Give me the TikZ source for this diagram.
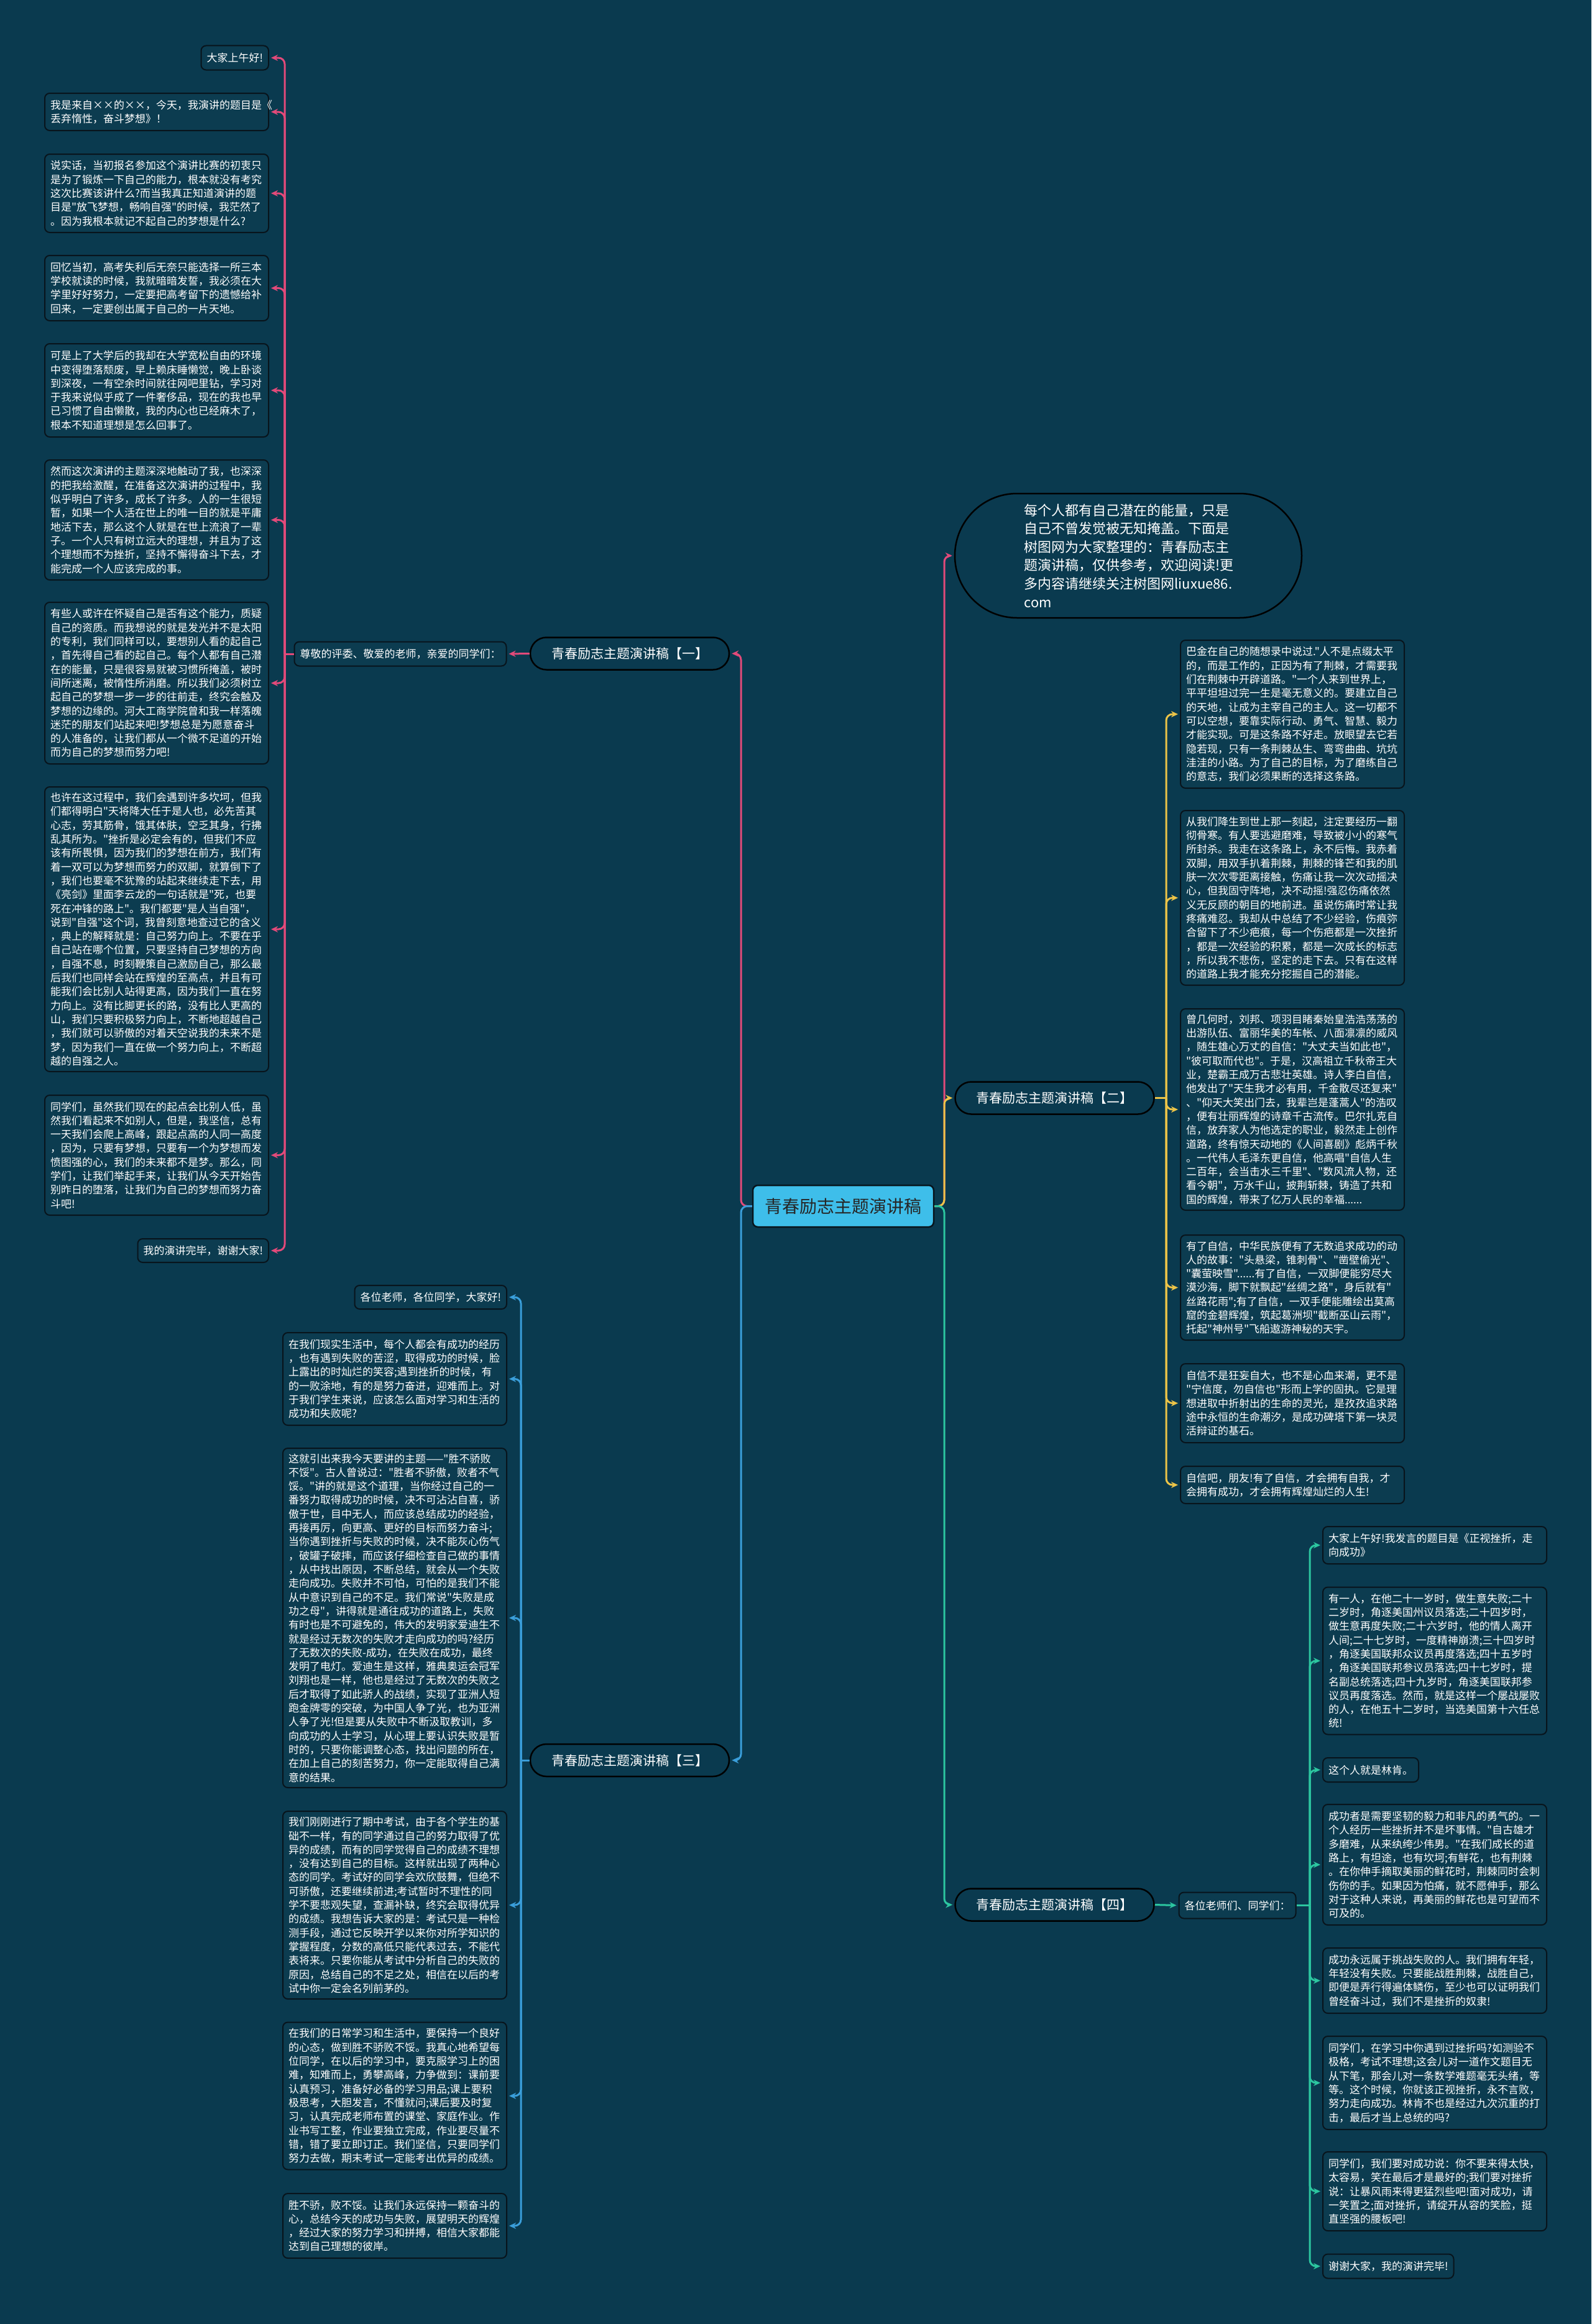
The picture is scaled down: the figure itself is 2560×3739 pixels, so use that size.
\documentclass[tikz,border=0pt]{standalone}
\usepackage{fontspec}
\newfontfamily\cjkf{Noto Sans CJK SC}
\usetikzlibrary{arrows.meta}
\definecolor{bgc}{RGB}{10,58,79}
\definecolor{boxc}{RGB}{12,60,80}
\definecolor{bdrc}{RGB}{8,20,28}
\definecolor{pinkc}{RGB}{226,74,122}
\definecolor{yelc}{RGB}{236,196,72}
\definecolor{bluc}{RGB}{58,158,218}
\definecolor{teac}{RGB}{44,198,160}
\definecolor{cenc}{RGB}{62,190,234}
\tikzset{
 tb/.style={draw=bdrc, line width=2pt, fill=boxc, rounded corners=8pt, text=white, font=\cjkf\fontsize{17}{22.3}\selectfont, inner xsep=9pt, inner ysep=3pt, align=left},
 wb/.style={tb, text width=342pt},
 brn/.style={draw=black, line width=2.5pt, fill=bgc, rounded corners=26pt, text=white, font=\cjkf\fontsize{21}{25}\selectfont, minimum width=320pt, minimum height=52pt, inner sep=0pt},
 cenn/.style={draw=bdrc, line width=2.5pt, fill=cenc, rounded corners=8pt, text=black!85, font=\cjkf\fontsize{28}{32}\selectfont, minimum width=291pt, minimum height=67pt},
 ln/.style={line width=3pt, rounded corners=10pt},
 ar/.style={ln, -{Stealth[length=11pt,width=10pt]}, shorten >=3pt},
}
\begin{document}
\begin{tikzpicture}[x=1pt,y=-1pt]
\useasboundingbox (0,0) rectangle (2560,3739);
\fill[bgc] (0,0) rectangle (2560,3739);

% central and branches
\node[cenn] (cen) at (1356.5,1940.5) {青春励志主题演讲稿};
\node[brn] (br1) at (1013,1051.5) {青春励志主题演讲稿【一】};
\node[brn] (br2) at (1696.5,1766.5) {青春励志主题演讲稿【二】};
\node[brn] (br3) at (1013,2832) {青春励志主题演讲稿【三】};
\node[brn] (br4) at (1696.5,3064.5) {青春励志主题演讲稿【四】};

\node[draw=black, line width=2.5pt, fill=bgc, rounded corners=100pt, minimum width=558pt, minimum height=200pt, text width=335pt, align=left, text=white, font=\cjkf\fontsize{22}{29.6}\selectfont] (bub) at (1815,894) {每个人都有自己潜在的能量，只是\\自己不曾发觉被无知掩盖。下面是\\树图网为大家整理的：青春励志主\\题演讲稿，仅供参考，欢迎阅读!更\\多内容请继续关注树图网liuxue86.\\com};

\node[tb, minimum height=39pt] (in1) at (644,1052) {尊敬的评委、敬爱的老师，亲爱的同学们：};
\node[tb, minimum height=42pt] (in4) at (1990.5,3065.5) {各位老师们、同学们：};

% branch 1 children
\node[tb, anchor=east, minimum height=39pt] (a1) at (433,93) {大家上午好!};
\node[wb, anchor=east, minimum height=60pt] (a2) at (433,180) {我是来自××的××，今天，我演讲的题目是《\\丢弃惰性，奋斗梦想》！};
\node[wb, anchor=east, minimum height=126pt] (a3) at (433,311) {说实话，当初报名参加这个演讲比赛的初衷只\\是为了锻炼一下自己的能力，根本就没有考究\\这次比赛该讲什么?而当我真正知道演讲的题\\目是"放飞梦想，畅响自强"的时候，我茫然了\\。因为我根本就记不起自己的梦想是什么?};
\node[wb, anchor=east, minimum height=105pt] (a4) at (433,463.5) {回忆当初，高考失利后无奈只能选择一所三本\\学校就读的时候，我就暗暗发誓，我必须在大\\学里好好努力，一定要把高考留下的遗憾给补\\回来，一定要创出属于自己的一片天地。};
\node[wb, anchor=east, minimum height=150pt] (a5) at (433,628) {可是上了大学后的我却在大学宽松自由的环境\\中变得堕落颓废，早上赖床睡懒觉，晚上卧谈\\到深夜，一有空余时间就往网吧里钻，学习对\\于我来说似乎成了一件奢侈品，现在的我也早\\已习惯了自由懒散，我的内心也已经麻木了，\\根本不知道理想是怎么回事了。};
\node[wb, anchor=east, minimum height=193pt] (a6) at (433,836.5) {然而这次演讲的主题深深地触动了我，也深深\\的把我给激醒，在准备这次演讲的过程中，我\\似乎明白了许多，成长了许多。人的一生很短\\暂，如果一个人活在世上的唯一目的就是平庸\\地活下去，那么这个人就是在世上流浪了一辈\\子。一个人只有树立远大的理想，并且为了这\\个理想而不为挫折，坚持不懈得奋斗下去，才\\能完成一个人应该完成的事。};
\node[wb, anchor=east, minimum height=260pt] (a7) at (433,1099) {有些人或许在怀疑自己是否有这个能力，质疑\\自己的资质。而我想说的就是发光并不是太阳\\的专利，我们同样可以，要想别人看的起自己\\，首先得自己看的起自己。每个人都有自己潜\\在的能量，只是很容易就被习惯所掩盖，被时\\间所迷离，被惰性所消磨。所以我们必须树立\\起自己的梦想一步一步的往前走，终究会触及\\梦想的边缘的。河大工商学院曾和我一样落魄\\迷茫的朋友们站起来吧!梦想总是为愿意奋斗\\的人准备的，让我们都从一个微不足道的开始\\而为自己的梦想而努力吧!};
\node[wb, anchor=east, minimum height=458pt] (a8) at (433,1495) {也许在这过程中，我们会遇到许多坎坷，但我\\们都得明白"天将降大任于是人也，必先苦其\\心志，劳其筋骨，饿其体肤，空乏其身，行拂\\乱其所为。"挫折是必定会有的，但我们不应\\该有所畏惧，因为我们的梦想在前方，我们有\\着一双可以为梦想而努力的双脚，就算倒下了\\，我们也要毫不犹豫的站起来继续走下去，用\\《亮剑》里面李云龙的一句话就是"死，也要\\死在冲锋的路上"。我们都要"是人当自强"，\\说到"自强"这个词，我曾刻意地查过它的含义\\，典上的解释就是：自己努力向上。不要在乎\\自己站在哪个位置，只要坚持自己梦想的方向\\，自强不息，时刻鞭策自己激励自己，那么最\\后我们也同样会站在辉煌的至高点，并且有可\\能我们会比别人站得更高，因为我们一直在努\\力向上。没有比脚更长的路，没有比人更高的\\山，我们只要积极努力向上，不断地超越自己\\，我们就可以骄傲的对着天空说我的未来不是\\梦，因为我们一直在做一个努力向上，不断超\\越的自强之人。};
\node[wb, anchor=east, minimum height=193pt] (a9) at (433,1858.5) {同学们，虽然我们现在的起点会比别人低，虽\\然我们看起来不如别人，但是，我坚信，总有\\一天我们会爬上高峰，跟起点高的人同一高度\\，因为，只要有梦想，只要有一个为梦想而发\\愤图强的心，我们的未来都不是梦。那么，同\\学们，让我们举起手来，让我们从今天开始告\\别昨日的堕落，让我们为自己的梦想而努力奋\\斗吧!};
\node[tb, anchor=east, minimum height=38pt] (a10) at (433,2012) {我的演讲完毕，谢谢大家!};

% branch 2 children
\node[wb, anchor=west, minimum height=238pt] (b1) at (1898,1149) {巴金在自己的随想录中说过."人不是点缀太平\\的，而是工作的，正因为有了荆棘，才需要我\\们在荆棘中开辟道路。"一个人来到世界上，\\平平坦坦过完一生是毫无意义的。要建立自己\\的天地，让成为主宰自己的主人。这一切都不\\可以空想，要靠实际行动、勇气、智慧、毅力\\才能实现。可是这条路不好走。放眼望去它若\\隐若现，只有一条荆棘丛生、弯弯曲曲、坑坑\\洼洼的小路。为了自己的目标，为了磨练自己\\的意志，我们必须果断的选择这条路。};
\node[wb, anchor=west, minimum height=281pt] (b2) at (1898,1444.5) {从我们降生到世上那一刻起，注定要经历一翻\\彻骨寒。有人要逃避磨难，导致被小小的寒气\\所封杀。我走在这条路上，永不后悔。我赤着\\双脚，用双手扒着荆棘，荆棘的锋芒和我的肌\\肤一次次零距离接触，伤痛让我一次次动摇决\\心，但我固守阵地，决不动摇!强忍伤痛依然\\义无反顾的朝目的地前进。虽说伤痛时常让我\\疼痛难忍。我却从中总结了不少经验，伤痕弥\\合留下了不少疤痕，每一个伤疤都是一次挫折\\，都是一次经验的积累，都是一次成长的标志\\，所以我不悲伤，坚定的走下去。只有在这样\\的道路上我才能充分挖掘自己的潜能。};
\node[wb, anchor=west, minimum height=324pt] (b3) at (1898,1785) {曾几何时，刘邦、项羽目睹秦始皇浩浩荡荡的\\出游队伍、富丽华美的车帐、八面凛凛的威风\\，随生雄心万丈的自信："大丈夫当如此也"，\\"彼可取而代也"。于是，汉高祖立千秋帝王大\\业，楚霸王成万古悲壮英雄。诗人李白自信，\\他发出了"天生我才必有用，千金散尽还复来"\\、"仰天大笑出门去，我辈岂是蓬蒿人"的浩叹\\，便有壮丽辉煌的诗章千古流传。巴尔扎克自\\信，放弃家人为他选定的职业，毅然走上创作\\道路，终有惊天动地的《人间喜剧》彪炳千秋\\。一代伟人毛泽东更自信，他高唱"自信人生\\二百年，会当击水三千里"、"数风流人物，还\\看今朝"，万水千山，披荆斩棘，铸造了共和\\国的辉煌，带来了亿万人民的幸福......};
\node[wb, anchor=west, minimum height=169pt] (b4) at (1898,2071.5) {有了自信，中华民族便有了无数追求成功的动\\人的故事："头悬梁，锥刺骨"、"凿壁偷光"、\\"囊萤映雪"......有了自信，一双脚便能穷尽大\\漠沙海，脚下就飘起"丝绸之路"，身后就有"\\丝路花雨";有了自信，一双手便能雕绘出莫高\\窟的金碧辉煌，筑起葛洲坝"截断巫山云雨"，\\托起"神州号"飞船遨游神秘的天宇。};
\node[wb, anchor=west, minimum height=127pt] (b5) at (1898,2257.5) {自信不是狂妄自大，也不是心血来潮，更不是\\"宁信度，勿自信也"形而上学的固执。它是理\\想进取中折射出的生命的灵光，是孜孜追求路\\途中永恒的生命潮汐，是成功碑塔下第一块灵\\活辩证的基石。};
\node[wb, anchor=west, minimum height=60pt] (b6) at (1898,2389) {自信吧，朋友!有了自信，才会拥有自我，才\\会拥有成功，才会拥有辉煌灿烂的人生!};

% branch 3 children
\node[tb, anchor=east, minimum height=38pt] (d1) at (816,2087) {各位老师，各位同学，大家好!};
\node[wb, anchor=east, minimum height=149pt] (d2) at (816,2218.5) {在我们现实生活中，每个人都会有成功的经历\\，也有遇到失败的苦涩，取得成功的时候，脸\\上露出的时灿烂的笑容;遇到挫折的时候，有\\的一败涂地，有的是努力奋进，迎难而上。对\\于我们学生来说，应该怎么面对学习和生活的\\成功和失败呢?};
\node[wb, anchor=east, minimum height=546pt] (d3) at (816,2603) {这就引出来我今天要讲的主题——"胜不骄败\\不馁"。古人曾说过："胜者不骄傲，败者不气\\馁。"讲的就是这个道理，当你经过自己的一\\番努力取得成功的时候，决不可沾沾自喜，骄\\傲于世，目中无人，而应该总结成功的经验，\\再接再厉，向更高、更好的目标而努力奋斗;\\当你遇到挫折与失败的时候，决不能灰心伤气\\，破罐子破摔，而应该仔细检查自己做的事情\\，从中找出原因，不断总结，就会从一个失败\\走向成功。失败并不可怕，可怕的是我们不能\\从中意识到自己的不足。我们常说"失败是成\\功之母"，讲得就是通往成功的道路上，失败\\有时也是不可避免的，伟大的发明家爱迪生不\\就是经过无数次的失败才走向成功的吗?经历\\了无数次的失败-成功，在失败在成功，最终\\发明了电灯。爱迪生是这样，雅典奥运会冠军\\刘翔也是一样，他也是经过了无数次的失败之\\后才取得了如此骄人的战绩，实现了亚洲人短\\跑金牌零的突破，为中国人争了光，也为亚洲\\人争了光!但是要从失败中不断汲取教训，多\\向成功的人士学习，从心理上要认识失败是暂\\时的，只要你能调整心态，找出问题的所在，\\在加上自己的刻苦努力，你一定能取得自己满\\意的结果。};
\node[wb, anchor=east, minimum height=302pt] (d4) at (816,3065) {我们刚刚进行了期中考试，由于各个学生的基\\础不一样，有的同学通过自己的努力取得了优\\异的成绩，而有的同学觉得自己的成绩不理想\\，没有达到自己的目标。这样就出现了两种心\\态的同学。考试好的同学会欢欣鼓舞，但绝不\\可骄傲，还要继续前进;考试暂时不理性的同\\学不要悲观失望，查漏补缺，终究会取得优异\\的成绩。我想告诉大家的是：考试只是一种检\\测手段，通过它反映开学以来你对所学知识的\\掌握程度，分数的高低只能代表过去，不能代\\表将来。只要你能从考试中分析自己的失败的\\原因，总结自己的不足之处，相信在以后的考\\试中你一定会名列前茅的。};
\node[wb, anchor=east, minimum height=237pt] (d5) at (816,3372) {在我们的日常学习和生活中，要保持一个良好\\的心态，做到胜不骄败不馁。我真心地希望每\\位同学，在以后的学习中，要克服学习上的困\\难，知难而上，勇攀高峰，力争做到：课前要\\认真预习，准备好必备的学习用品;课上要积\\极思考，大胆发言，不懂就问;课后要及时复\\习，认真完成老师布置的课堂、家庭作业。作\\业书写工整，作业要独立完成，作业要尽量不\\错，错了要立即订正。我们坚信，只要同学们\\努力去做，期末考试一定能考出优异的成绩。};
\node[wb, anchor=east, minimum height=104pt] (d6) at (816,3581) {胜不骄，败不馁。让我们永远保持一颗奋斗的\\心，总结今天的成功与失败，展望明天的辉煌\\，经过大家的努力学习和拼搏，相信大家都能\\达到自己理想的彼岸。};

% branch 4 children
\node[wb, anchor=west, minimum height=60pt] (e1) at (2127,2486) {大家上午好!我发言的题目是《正视挫折，走\\向成功》};
\node[wb, anchor=west, minimum height=237pt] (e2) at (2127,2672) {有一人，在他二十一岁时，做生意失败;二十\\二岁时，角逐美国州议员落选;二十四岁时，\\做生意再度失败;二十六岁时，他的情人离开\\人间;二十七岁时，一度精神崩溃;三十四岁时\\，角逐美国联邦众议员再度落选;四十五岁时\\，角逐美国联邦参议员落选;四十七岁时，提\\名副总统落选;四十九岁时，角逐美国联邦参\\议员再度落选。然而，就是这样一个屡战屡败\\的人，在他五十二岁时，当选美国第十六任总\\统!};
\node[tb, anchor=west, minimum height=39pt] (e3) at (2127,2847.5) {这个人就是林肯。};
\node[wb, anchor=west, minimum height=194pt] (e4) at (2127,3000) {成功者是需要坚韧的毅力和非凡的勇气的。一\\个人经历一些挫折并不是坏事情。"自古雄才\\多磨难，从来纨绔少伟男。"在我们成长的道\\路上，有坦途，也有坎坷;有鲜花，也有荆棘\\。在你伸手摘取美丽的鲜花时，荆棘同时会刺\\伤你的手。如果因为怕痛，就不愿伸手，那么\\对于这种人来说，再美丽的鲜花也是可望而不\\可及的。};
\node[wb, anchor=west, minimum height=105pt] (e5) at (2127,3186.5) {成功永远属于挑战失败的人。我们拥有年轻，\\年轻没有失败。只要能战胜荆棘，战胜自己，\\即便是弄行得遍体鳞伤，至少也可以证明我们\\曾经奋斗过，我们不是挫折的奴隶!};
\node[wb, anchor=west, minimum height=150pt] (e6) at (2127,3351) {同学们，在学习中你遇到过挫折吗?如测验不\\极格，考试不理想;这会儿对一道作文题目无\\从下笔，那会儿对一条数学难题毫无头绪，等\\等。这个时候，你就该正视挫折，永不言败，\\努力走向成功。林肯不也是经过九次沉重的打\\击，最后才当上总统的吗?};
\node[wb, anchor=west, minimum height=127pt] (e7) at (2127,3525.5) {同学们，我们要对成功说：你不要来得太快，\\太容易，笑在最后才是最好的;我们要对挫折\\说：让暴风雨来得更猛烈些吧!面对成功，请\\一笑置之;面对挫折，请绽开从容的笑脸，挺\\直坚强的腰板吧!};
\node[tb, anchor=west, minimum height=39pt] (e8) at (2127,3646) {谢谢大家，我的演讲完毕!};

% junctions
\coordinate (cL) at (1192,1940.5);
\coordinate (cR) at (1519,1940.5);
\coordinate (j1) at (458,1052);
\coordinate (j2) at (1876,1766.5);
\coordinate (j3) at (838,2832);
\coordinate (j4) at (2107,3065.5);

% connectors from centre
\draw[ar, pinkc] (cen.west) -- (cL) |- (br1.east);
\draw[ar, bluc] (cen.west) -- (cL) |- (br3.east);
\draw[ar, pinkc] (cen.east) -- (cR) |- (bub.west);
\draw[ar, yelc] (cen.east) -- (cR) |- (br2.west);
\draw[ar, teac] (cen.east) -- (cR) |- (br4.west);

% branch 1
\draw[ar, pinkc] (br1.west) -- (in1.east);
\draw[ln, pinkc] (in1.west) -- (j1);
\foreach \n in {a1,a2,a3,a4,a5,a6,a7,a8,a9,a10}
  \draw[ar, pinkc] (j1) |- (\n.east);

% branch 2
\draw[ln, yelc] (br2.east) -- (j2);
\foreach \n in {b1,b2,b3,b4,b5,b6}
  \draw[ar, yelc] (j2) |- (\n.west);

% branch 3
\draw[ln, bluc] (br3.west) -- (j3);
\foreach \n in {d1,d2,d3,d4,d5,d6}
  \draw[ar, bluc] (j3) |- (\n.east);

% branch 4
\draw[ar, teac] (br4.east) -- (in4.west);
\draw[ln, teac] (in4.east) -- (j4);
\foreach \n in {e1,e2,e3,e4,e5,e6,e7,e8}
  \draw[ar, teac] (j4) |- (\n.west);
\end{tikzpicture}
\end{document}
